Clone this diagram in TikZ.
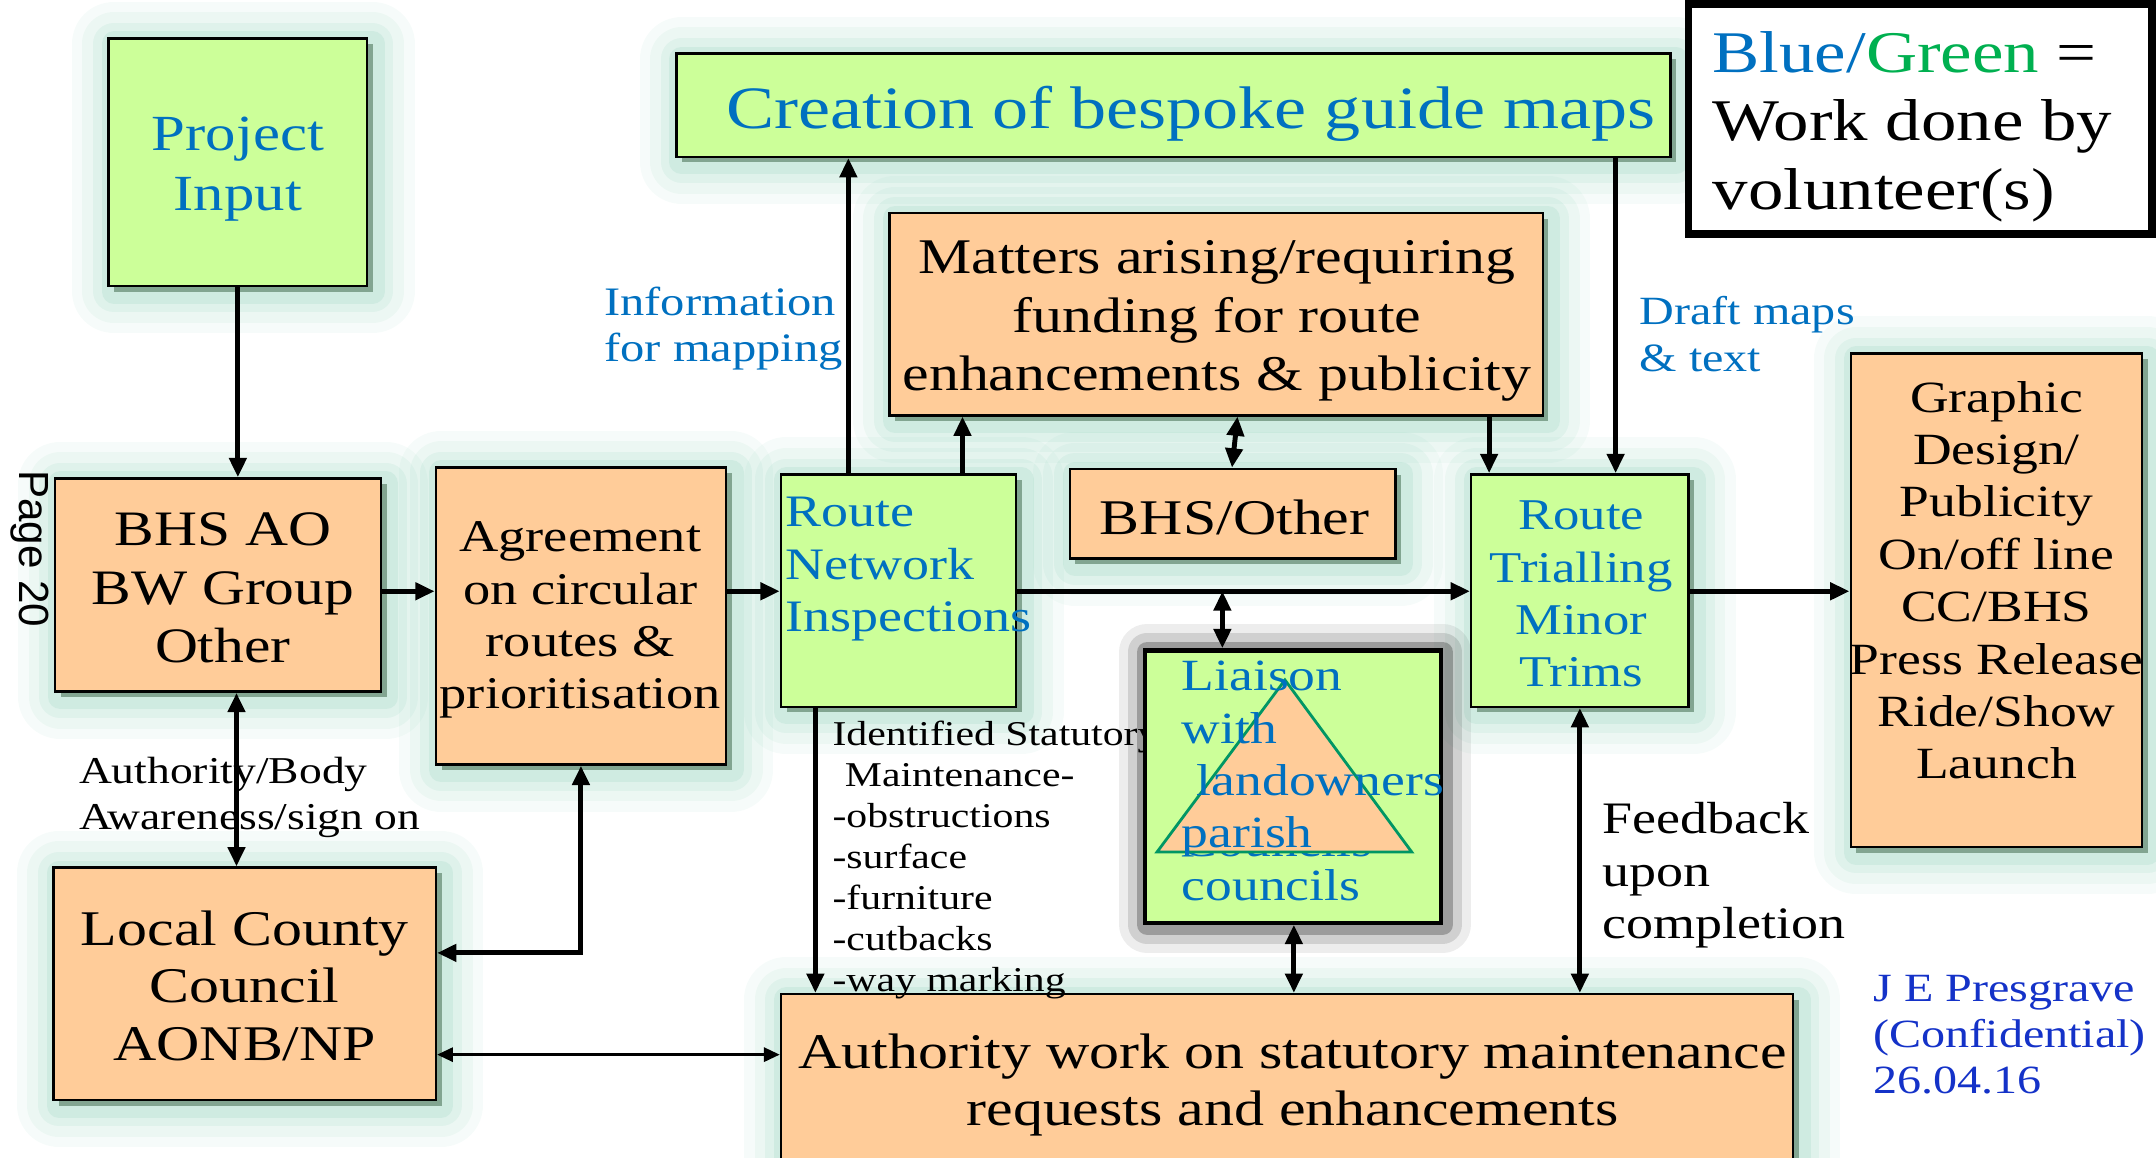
\documentclass[tikz,border=0pt]{standalone}
\usepackage{fontspec}
\setmainfont[FakeStretch=1.2]{Liberation Serif}
\newfontfamily\pagefont{Liberation Sans}
\usetikzlibrary{arrows.meta,fit,shadows}
\definecolor{boxgreen}{RGB}{204,255,153}
\definecolor{boxorange}{RGB}{255,204,153}
\definecolor{txtblue}{RGB}{0,112,192}
\definecolor{txtgreen}{RGB}{0,176,80}
\definecolor{sigblue}{RGB}{20,50,200}
\definecolor{glowc}{RGB}{110,195,165}
\definecolor{hardsh}{RGB}{130,165,145}
\definecolor{trigreen}{RGB}{0,150,100}
\newcommand\fsz[2]{\fontsize{#1}{#2}\selectfont}
\tikzset{
  x=0.01375cm, y=-0.01375cm,
  glow/.style={
    general shadow={draw=glowc, line join=round, line width=24pt, opacity=0.06, shadow xshift=1.5pt, shadow yshift=-1.5pt},
    general shadow={draw=glowc, line join=round, line width=18pt, opacity=0.08, shadow xshift=1.5pt, shadow yshift=-1.5pt},
    general shadow={draw=glowc, line join=round, line width=12pt, opacity=0.10, shadow xshift=1.5pt, shadow yshift=-1.5pt},
    general shadow={draw=glowc, line join=round, line width=7pt, opacity=0.14, shadow xshift=1.5pt, shadow yshift=-1.5pt},
    general shadow={fill=hardsh, shadow xshift=1.6pt, shadow yshift=-1.6pt}},
  grayglow/.style={
    general shadow={draw=black, line join=round, line width=16pt, opacity=0.07, shadow xshift=0.5pt, shadow yshift=-0.5pt},
    general shadow={draw=black, line join=round, line width=11pt, opacity=0.12, shadow xshift=0.5pt, shadow yshift=-0.5pt},
    general shadow={draw=black, line join=round, line width=6pt, opacity=0.25, shadow xshift=0.5pt, shadow yshift=-0.5pt}},
  boxbase/.style={draw=black, line width=0.7pt, inner sep=0pt},
  gbox/.style={boxbase, fill=boxgreen, glow},
  obox/.style={boxbase, fill=boxorange, glow},
  txt/.style={inner sep=0pt, align=center},
  ltxt/.style={inner sep=0pt, align=left, anchor=west},
  arrtip/.tip={Triangle[length=5.5pt,width=4.8pt]},
  arr/.style={line width=1.4pt, -arrtip},
  darr/.style={line width=1.4pt, arrtip-arrtip},
  thinarr/.style={line width=0.8pt, {Triangle[length=4.5pt,width=4pt]}-{Triangle[length=4.5pt,width=4pt]}},
}
\begin{document}
\begin{tikzpicture}
\useasboundingbox (0,0) rectangle (1568,842);

% helper coordinates
\coordinate (yl) at (0,430);
\coordinate (y693) at (0,693);
\coordinate (y767) at (0,767);
\coordinate (x172) at (172,0);
\coordinate (x593) at (593,0);
\coordinate (x617) at (617,0);
\coordinate (x700) at (700,0);
\coordinate (x900) at (900,0);
\coordinate (x896) at (896,0);
\coordinate (x1083) at (1083,0);
\coordinate (x1175) at (1175,0);
\coordinate (x941) at (941,0);
\coordinate (x1149) at (1149,0);
\coordinate (j1) at (889,430);

% boxes
\node[gbox, fit={(79,28) (267,208)}] (proj) {};
\node[gbox, fit={(492,39) (1215,114)}] (cre) {};
\node[obox, fit={(647,155) (1122,302)}] (mat) {};
\node[obox, fit={(40,348) (277,503)}] (bhs) {};
\node[obox, fit={(317,340) (528,556)}] (agr) {};
\node[gbox, fit={(568,345) (739,514)}] (rni) {};
\node[obox, fit={(778,341) (1015,406)}] (bho) {};
\node[gbox, fit={(1070,345) (1228,514)}] (rtm) {};
\node[obox, fit={(1346,257) (1558,616)}] (gd) {};
\node[obox, fit={(39,631) (317,800)}] (lcc) {};
\node[obox, fit={(568,723) (1304,860)}] (auth) {};
\node[draw=black, line width=2.2pt, fill=white, inner sep=0pt, fit={(1228,3) (1565,170)}] (leg) {};

% free texts drawn beneath overlapping shapes
\node[ltxt, font=\fsz{9.9}{11.7}] (ident) at (605,625.5)
  {Identified Statutory\\\hspace*{3.5pt}Maintenance-\\-obstructions\\-surface\\-furniture\\-cutbacks\\-way marking};
\node[ltxt, font=\fsz{10.8}{13.3}] (ab) at (57,580) {Authority/Body\\Awareness/sign on};

% liaison box with triangle
\node[boxbase, line width=1.2pt, fill=boxgreen, grayglow, fit={(833,473) (1048,671)}] (lia) {};
\begin{scope}
  \clip (840,620.6) rectangle (1040,623.8);
  \node[anchor=base west, inner sep=0pt, text=txtblue, font=\fsz{12.7}{14.9}] (ghost) at (859,623) {Councils};
\end{scope}
\draw[fill=boxorange, draw=trigreen, line width=0.8pt] (934.5,494.5) -- (841.5,619.6) -- (1026.7,619.6) -- cycle;

% box texts
\node[txt, text=txtblue, font=\fsz{14.4}{17}] (tproj) at (173,123) {Project\\Input};
\node[txt, text=txtblue, font=\fsz{17.1}{20}] (tcre) at (866,83) {Creation of bespoke guide maps};
\node[ltxt, font=\fsz{16.8}{19.5}] (tleg) at (1245,92)
  {{\color{txtblue}Blue/}{\color{txtgreen}Green} =\\Work done by\\volunteer(s)};
\node[txt, font=\fsz{14.2}{16.6}] (tmat) at (885,233.5)
  {Matters arising/requiring\\funding for route\\enhancements \& publicity};
\node[txt, font=\fsz{14.1}{16.6}] (tbhs) at (162,427.5) {BHS AO\\BW Group\\Other};
\node[txt, font=\fsz{12.9}{14.9}] (tagr) at (422,451) {Agreement\\on circular\\routes \&\\prioritisation};
\node[ltxt, text=txtblue, font=\fsz{12.8}{14.9}] (trni) at (571,414) {Route\\Network\\Inspections};
\node[txt, font=\fsz{14.2}{16.6}] (tbho) at (898,376) {BHS/Other};
\node[txt, text=txtblue, font=\fsz{12.5}{14.9}] (trtm) at (1150,432) {Route\\Trialling\\Minor\\Trims};
\node[txt, font=\fsz{12.7}{14.9}] (tgd) at (1452,422)
  {Graphic\\Design/\\Publicity\\On/off line\\CC/BHS\\Press Release\\Ride/Show\\Launch};
\node[ltxt, text=txtblue, font=\fsz{12.7}{14.9}] (tlia) at (859,568)
  {Liaison\\with\\\hspace*{4.3pt}landowners\\parish\\councils};
\node[txt, font=\fsz{14.2}{16.4}] (tlcc) at (178,717) {Local County\\Council\\AONB/NP};
\node[txt, font=\fsz{14.2}{16.4}] (tauth) at (940,789)
  {Authority work on statutory maintenance\\requests and enhancements};

% other labels
\node[ltxt, text=txtblue, font=\fsz{11.5}{13.3}] (info) at (439,239) {Information\\for mapping};
\node[ltxt, text=txtblue, font=\fsz{11.4}{13.3}] (draft) at (1192,243) {Draft maps\\\& text};
\node[ltxt, font=\fsz{12.8}{15}] (feed) at (1165,636.5) {Feedback\\upon\\completion};
\node[ltxt, text=sigblue, font=\fsz{11.4}{13.1}] (sig) at (1362,752.5) {J E Presgrave\\(Confidential)\\26.04.16};
\node[rotate=-90, inner sep=0pt, font=\pagefont\fontsize{12}{14}\selectfont] (pg) at (22,399) {Page 20};

% connectors
\draw[arr] (proj.south) -- (proj.south |- bhs.north);
\draw[arr] (bhs.east |- yl) -- (agr.west |- yl);
\draw[arr] (agr.east |- yl) -- (rni.west |- yl);
\draw[arr] (rni.east |- yl) -- (rtm.west |- yl);
\draw[arr] (rtm.east |- yl) -- (gd.west |- yl);
\draw[arr] (rni.north -| x617) -- (cre.south -| x617);
\draw[arr] (rni.north -| x700) -- (mat.south -| x700);
\draw[darr] (mat.south -| x900) -- (bho.north -| x896);
\draw[arr] (mat.south -| x1083) -- (rtm.north -| x1083);
\draw[arr] (cre.south -| x1175) -- (rtm.north -| x1175);
\draw[darr] (j1) -- (lia.north -| j1);
\draw[darr] (lia.south -| x941) -- (auth.north -| x941);
\draw[darr] (rtm.south -| x1149) -- (auth.north -| x1149);
\draw[darr] (bhs.south -| x172) -- (lcc.north -| x172);
\draw[darr] (agr.south) |- (lcc.east |- y693);
\draw[thinarr] (lcc.east |- y767) -- (auth.west |- y767);
\draw[arr] (rni.south -| x593) -- (auth.north -| x593);
\end{tikzpicture}
\end{document}
